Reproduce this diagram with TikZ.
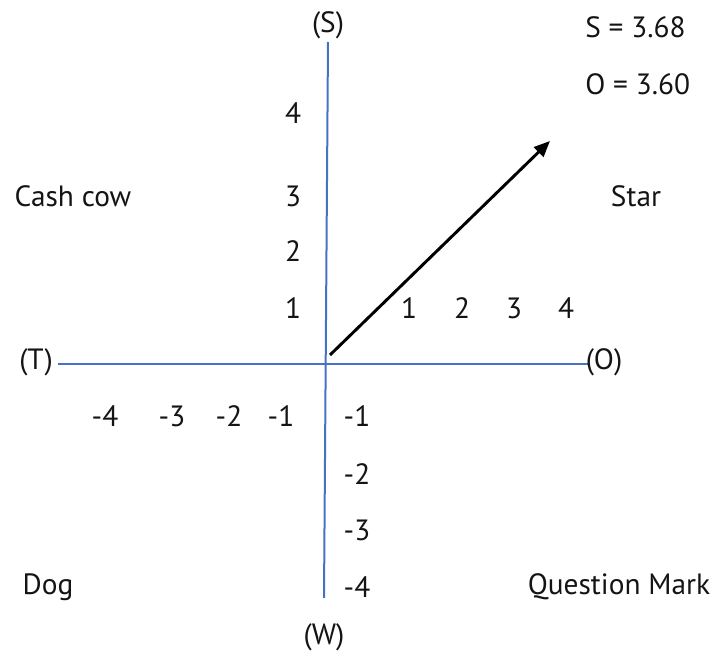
\documentclass[tikz,border=0pt]{standalone}
\usepackage{fontspec}
\setmainfont{PT Sans}
\usetikzlibrary{arrows.meta}
\definecolor{axBlue}{RGB}{68,114,196}
\definecolor{axText}{RGB}{20,20,20}
\tikzset{
    base/.style={font=\fontsize{22}{26}\selectfont, text=axText, inner sep=0pt},
    tick/.style={base},
    quad/.style={base},
    axis/.style={draw=axBlue, line width=1.5pt},
    vec/.style={-{Triangle[length=12pt,width=10pt]}, line width=2.2pt, black}
}
\begin{document}
\begin{tikzpicture}[x=0.75pt,y=-0.75pt]
  \useasboundingbox (0,0) rectangle (726,656);

  % Axis ends
  \coordinate (sTop) at (328,42);
  \coordinate (wBot) at (324,598);
  \coordinate (tEnd) at (58,364);
  \coordinate (oEnd) at (588,364);
  \draw[axis] (sTop) -- (wBot);
  \draw[axis] (tEnd) -- (oEnd);

  % Axis names
  \node[base] (sLab) at (328,25) {(S)};
  \node[base] (wLab) at (324,637) {(W)};
  \node[base] (tLab) at (36,362) {(T)};
  \node[base] (oLab) at (604,362) {(O)};

  % Scores
  \node[base, anchor=west] (sVal) at (585,27) {S = 3.68};
  \node[base, anchor=west] (oVal) at (585,84) {O = 3.60};

  % Quadrants
  \node[quad] (cash) at (73,196) {Cash cow};
  \node[quad] (star) at (636,196) {Star};
  \node[quad] (dog) at (48,587) {Dog};
  \node[quad] (qmark) at (619,587) {Question Mark};

  % Ticks on S axis
  \foreach \v/\y in {4/113,3/196,2/251,1/308}
    \node[tick] (s\v) at (293,\y) {\v};
  % Ticks on O axis
  \foreach \v/\x in {1/409,2/462,3/514,4/566}
    \node[tick] (o\v) at (\x,308) {\v};
  % Ticks on T axis
  \foreach \v/\x in {4/105,3/172,2/229,1/281}
    \node[tick] (t\v) at (\x,416) {-\v};
  % Ticks on W axis
  \foreach \v/\y in {1/416,2/474,3/530,4/587}
    \node[tick] (w\v) at (357,\y) {-\v};

  % Strategy vector
  \coordinate (origin) at (330,355);
  \coordinate (tip) at (550,141);
  \draw[vec] (origin) -- (tip);
\end{tikzpicture}
\end{document}
